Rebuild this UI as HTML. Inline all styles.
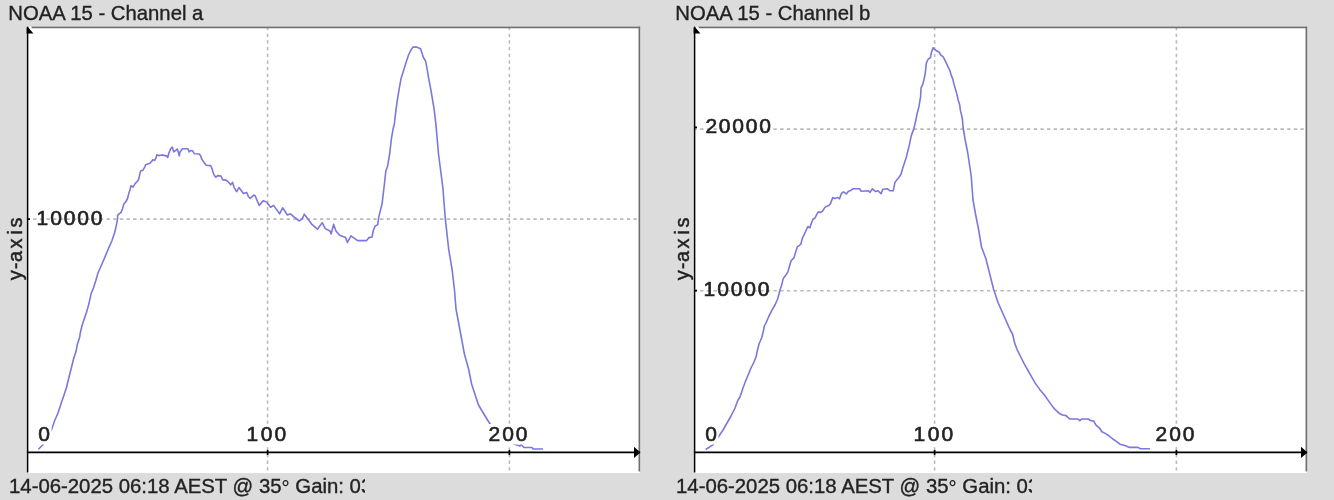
<!DOCTYPE html>
<html><head><meta charset="utf-8"><style>
html,body{margin:0;padding:0;background:#dcdcdc;width:1334px;height:500px;overflow:hidden}
svg.root{display:block;filter:blur(0.4px)}
.t{font-family:"Liberation Sans",sans-serif;font-size:20px;fill:#222222;stroke:#222222;stroke-width:0.35px}
.n text{font-family:"Liberation Sans",sans-serif;font-size:21px;fill:#222222;stroke:#222222;stroke-width:0.6px}
.n text.h{paint-order:stroke}
.ya{font-family:"Liberation Sans",sans-serif;font-size:20px;fill:#222222;stroke:#222222;stroke-width:0.45px}
</style></head><body>
<svg class="root" width="1334" height="500" viewBox="0 0 1334 500">
<defs><clipPath id="pc"><rect x="26.6" y="26.6" width="613.8" height="446.6"/></clipPath></defs>
<rect width="1334" height="500" fill="#dcdcdc"/>
<g transform="translate(0,0)">
<text x="8.3" y="19.5" class="t" style="font-size:20.3px">NOAA 15 - Channel a</text>
<g clip-path="url(#pc)">
<rect x="26.6" y="26.6" width="613.8" height="446.6" fill="#fff"/>
<g stroke="#bababa" stroke-width="1.6" stroke-dasharray="3.33 3.34"><line x1="267.6" y1="27" x2="267.6" y2="473"/><line x1="509.4" y1="27" x2="509.4" y2="473"/><line x1="26.5" y1="219.1" x2="640" y2="219.1"/></g>
<line x1="31.6" y1="27.3" x2="640.4" y2="27.3" stroke="#6e6e6e" stroke-width="1.9"/>
<line x1="639.5" y1="26.6" x2="639.5" y2="471.6" stroke="#6e6e6e" stroke-width="1.9"/>
<polyline points="38.4,449.2 44.4,443.2 52.0,428.6 54.4,421.3 58.0,413.0 61.6,402.0 64.0,395.0 66.4,387.7 68.8,378.0 71.2,368.5 73.6,358.8 76.0,351.6 77.3,344.4 79.7,337.2 80.1,334.0 81.9,326.0 84.2,319.0 86.5,312.2 88.8,304.1 91.1,293.7 93.4,288.0 95.7,281.0 98.0,273.0 101.5,265.0 105.0,256.9 108.4,248.8 111.9,240.7 114.6,232.7 116.5,224.6 117.6,218.6 117.6,215.1 121.1,212.3 122.5,208.8 123.9,203.9 125.3,202.5 127.4,199.0 128.8,193.4 130.2,189.2 130.9,185.7 133.0,187.1 135.1,183.6 137.2,181.5 138.6,179.4 139.3,176.6 140.0,173.1 140.7,171.0 142.8,170.3 144.9,166.8 145.6,164.7 147.7,164.0 149.8,163.3 151.9,161.2 152.6,159.8 154.7,160.5 156.1,157.7 156.8,154.9 159.6,155.6 162.0,154.9 167.0,156.1 167.7,157.5 168.8,153.3 170.5,149.1 172.3,147.0 173.7,151.9 177.2,149.1 177.9,150.9 179.3,155.8 180.0,151.9 182.4,148.8 188.0,148.8 189.1,151.9 190.8,150.5 192.6,150.9 194.3,153.7 199.2,154.0 200.6,155.8 202.0,159.6 204.1,162.4 206.2,165.2 210.6,165.6 211.8,168.0 213.0,172.0 214.2,175.2 215.8,177.2 217.8,175.6 221.0,176.0 222.6,179.6 226.6,180.4 229.0,182.8 230.6,184.8 232.6,182.4 234.2,187.6 236.6,191.6 239.0,187.6 241.8,191.2 243.4,193.6 246.6,192.4 248.6,196.8 250.2,198.4 253.8,195.2 255.0,195.5 259.2,205.4 263.4,200.6 267.0,202.4 270.6,207.2 273.6,205.4 279.6,213.8 282.6,207.8 287.4,215.0 290.4,213.8 294.6,217.4 299.4,221.0 302.4,218.6 304.2,214.2 308.4,219.6 311.4,223.8 317.4,229.2 322.2,222.6 325.2,228.6 330.0,231.0 331.2,234.0 333.6,224.4 336.0,231.0 339.6,235.2 345.6,237.6 347.4,242.4 351.0,235.8 357.6,240.6 366.6,240.6 369.0,237.6 372.0,237.0 373.2,231.0 375.0,226.2 377.7,224.6 378.8,216.9 382.1,203.7 384.3,185.0 385.9,170.7 387.6,166.3 389.8,153.0 391.4,138.7 393.1,128.8 394.3,124.2 396.0,109.7 397.7,97.8 399.4,87.6 401.1,78.3 403.6,70.6 406.2,62.1 408.7,54.5 411.3,49.4 413.0,47.1 416.4,47.1 420.6,48.8 423.2,57.0 425.7,61.3 427.4,70.6 428.8,79.1 430.8,89.3 432.5,99.5 434.2,109.7 435.9,124.2 438.5,154.0 442.9,188.0 445.3,218.6 448.7,249.3 452.1,269.7 454.5,290.0 456.0,309.0 460.5,333.0 464.4,354.0 468.6,369.0 471.6,384.0 475.5,396.0 478.5,405.0 483.0,412.5 487.5,420.0 490.5,424.5 500.0,434.0 508.0,441.0 514.0,444.0 520.0,446.0 521.0,444.5 524.0,447.5 532.0,447.5 533.0,449.0 543.0,449.0" fill="none" stroke="#7c77dd" stroke-width="1.6" stroke-linejoin="round"/>
<line x1="27.5" y1="26.6" x2="27.5" y2="472.4" stroke="#000" stroke-width="1.7"/>
<line x1="26.6" y1="452.4" x2="640.4" y2="452.4" stroke="#000" stroke-width="1.7"/>
<polygon points="27.5,26.6 33.4,33.4 21.6,33.4" fill="#000"/>
<polygon points="640.4,452.4 634,446.8 634,458" fill="#000"/>
<line x1="267.6" y1="450" x2="267.6" y2="455" stroke="#000" stroke-width="1.7"/><line x1="509.4" y1="450" x2="509.4" y2="455" stroke="#000" stroke-width="1.7"/><line x1="27" y1="219.1" x2="30" y2="219.1" stroke="#000" stroke-width="1.7"/>
<g fill="#fff"><rect x="37.5" y="424" width="14" height="20.5"/><rect x="246.5" y="424" width="40.5" height="20.5"/><rect x="488" y="424" width="40.5" height="20.5"/></g><g class="n"><text x="38.3" y="441.4">0</text><text x="246.4 260.8 274.4" y="441.4">100</text><text x="488.4 502.2 515.7" y="441.4">200</text><text x="36.5 50.3 63.8 77.3 90.8" y="224.5">10000</text></g>
</g>
<text class="ya" transform="translate(22,281.5) rotate(-90)" x="1.2 12.2 19.6 33.1 46.95 54.1">y-axis</text>
<svg x="0" y="473" width="365" height="27" overflow="hidden"><text x="9" y="19.8" class="t" style="font-size:20.35px">14-06-2025 06:18 AEST @ 35<tspan dy="2.2" stroke="#222" stroke-width="0.2">°</tspan><tspan dy="-2.2"> Gain: 03</tspan></text></svg>
</g>

<g transform="translate(667,0)">
<text x="8.3" y="19.5" class="t" style="font-size:20.3px">NOAA 15 - Channel b</text>
<g clip-path="url(#pc)">
<rect x="26.6" y="26.6" width="613.8" height="446.6" fill="#fff"/>
<g stroke="#bababa" stroke-width="1.6" stroke-dasharray="3.33 3.34"><line x1="267.6" y1="27" x2="267.6" y2="473"/><line x1="509.4" y1="27" x2="509.4" y2="473"/><line x1="26.5" y1="129.1" x2="640" y2="129.1"/><line x1="26.5" y1="290.7" x2="640" y2="290.7"/></g>
<line x1="31.6" y1="27.3" x2="640.4" y2="27.3" stroke="#6e6e6e" stroke-width="1.9"/>
<line x1="639.5" y1="26.6" x2="639.5" y2="471.6" stroke="#6e6e6e" stroke-width="1.9"/>
<polyline points="38.7,449.5 46.5,444.3 52.0,436.0 56.0,430.0 60.0,423.0 64.0,416.0 68.0,408.0 71.0,400.0 73.0,397.0 75.0,391.0 76.0,388.0 79.0,380.0 82.0,373.0 84.0,368.0 87.0,362.0 89.0,357.0 90.0,352.0 92.0,344.0 94.7,337.7 96.5,330.5 97.4,326.0 99.2,322.4 101.9,316.2 104.6,310.8 108.2,304.5 110.9,298.2 112.7,291.0 114.5,285.6 116.3,278.4 119.0,274.8 120.8,272.1 122.6,265.8 124.1,260.7 126.9,257.9 129.0,251.0 130.4,246.7 132.5,245.3 133.9,244.0 135.3,238.4 137.4,234.2 139.5,229.3 140.9,226.5 143.0,227.9 143.7,225.1 145.8,219.5 147.9,218.1 150.0,213.9 151.4,211.8 153.5,212.5 155.6,211.1 157.7,207.6 159.8,206.2 161.8,205.5 163.2,204.1 164.6,200.6 165.8,197.6 167.8,198.4 170.6,197.6 172.6,198.8 174.2,194.0 175.8,192.0 177.4,192.4 179.4,194.0 181.4,191.2 183.8,190.4 185.8,188.8 192.6,188.8 194.2,191.2 201.4,190.8 203.0,192.4 205.4,188.8 208.6,191.6 211.0,190.8 214.2,193.6 215.8,189.2 220.6,188.8 223.0,190.8 226.2,190.8 227.0,187.2 227.8,182.8 229.4,180.4 231.8,177.5 234.0,174.2 235.7,168.3 237.4,163.1 239.1,158.0 240.8,151.2 242.5,144.4 244.2,135.9 246.7,129.1 248.4,122.3 250.1,113.7 251.9,106.9 253.6,96.7 254.0,88.0 255.8,84.4 257.0,79.6 258.2,73.6 259.4,62.8 261.2,59.2 263.6,57.4 264.2,53.2 266.0,47.8 267.2,49.0 269.6,50.8 272.0,52.0 273.8,55.0 276.2,56.8 278.6,61.6 281.5,67.7 282.9,70.5 284.3,75.4 285.7,78.9 287.1,84.5 288.5,89.4 289.9,94.3 291.3,100.6 292.7,104.8 293.4,110.4 294.8,116.0 295.5,120.2 296.1,127.5 298.2,140.0 300.6,152.0 302.4,164.0 304.2,176.0 305.1,188.0 306.0,200.0 308.5,214.0 311.5,229.0 314.5,247.0 319.0,259.0 322.0,271.0 326.5,289.0 331.0,302.5 337.0,316.0 343.0,329.5 345.7,334.5 347.5,342.6 350.2,349.8 353.8,357.0 357.4,364.2 361.0,370.5 364.6,376.8 368.2,383.1 372.7,389.4 377.2,394.8 381.7,401.1 386.2,407.4 390.7,412.0 393.0,413.8 395.4,415.0 399.0,415.6 402.6,419.0 411.0,419.0 412.8,420.6 414.6,419.0 421.2,419.0 423.6,420.6 426.6,421.0 429.0,425.2 432.6,428.2 435.0,431.8 438.6,433.6 442.2,436.0 445.8,439.0 449.4,441.4 453.0,444.2 457.8,445.6 462.6,447.4 471.0,447.4 473.4,448.8 483.0,448.8" fill="none" stroke="#7c77dd" stroke-width="1.6" stroke-linejoin="round"/>
<line x1="27.5" y1="26.6" x2="27.5" y2="472.4" stroke="#000" stroke-width="1.7"/>
<line x1="26.6" y1="452.4" x2="640.4" y2="452.4" stroke="#000" stroke-width="1.7"/>
<polygon points="27.5,26.6 33.4,33.4 21.6,33.4" fill="#000"/>
<polygon points="640.4,452.4 634,446.8 634,458" fill="#000"/>
<line x1="267.6" y1="450" x2="267.6" y2="455" stroke="#000" stroke-width="1.7"/><line x1="509.4" y1="450" x2="509.4" y2="455" stroke="#000" stroke-width="1.7"/><line x1="27" y1="127.4" x2="30" y2="127.4" stroke="#000" stroke-width="1.7"/><line x1="27" y1="290.7" x2="30" y2="290.7" stroke="#000" stroke-width="1.7"/>
<g fill="#fff"><rect x="37.5" y="424" width="14" height="20.5"/><rect x="246.5" y="424" width="40.5" height="20.5"/><rect x="488" y="424" width="40.5" height="20.5"/></g><g class="n"><text x="38.3" y="441.4">0</text><text x="246.4 260.8 274.4" y="441.4">100</text><text x="488.4 502.2 515.7" y="441.4">200</text><text x="38.4 51.8 65.3 78.8 92.3" y="132.8">20000</text><text x="36.5 50.3 63.8 77.3 90.8" y="296.09999999999997">10000</text></g>
</g>
<text class="ya" transform="translate(22,281.5) rotate(-90)" x="1.2 12.2 19.6 33.1 46.95 54.1">y-axis</text>
<svg x="0" y="473" width="365" height="27" overflow="hidden"><text x="9" y="19.8" class="t" style="font-size:20.35px">14-06-2025 06:18 AEST @ 35<tspan dy="2.2" stroke="#222" stroke-width="0.2">°</tspan><tspan dy="-2.2"> Gain: 03</tspan></text></svg>
</g>

</svg>
</body></html>
